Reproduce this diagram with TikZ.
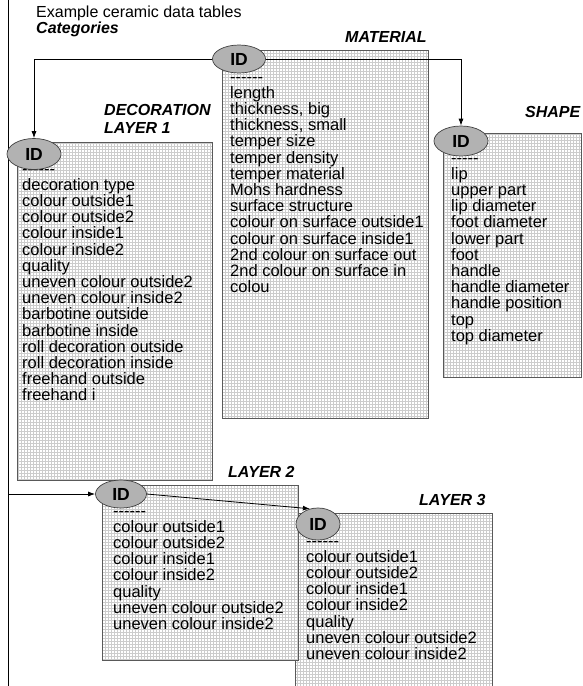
\documentclass[tikz,border=0pt]{standalone}
\usepackage{fontspec}
\setmainfont{Liberation Sans}
\usetikzlibrary{shapes.geometric,arrows.meta,patterns}
\newcommand{\hdash}{-\kern0pt}
\newcommand{\dashrow}{\hdash\hdash\hdash\hdash\hdash\hdash}
\begin{document}
\begin{tikzpicture}[x=1pt,y=-1pt,
  tbox/.style={draw=black!65, line width=0.8pt, preaction={fill=white}, pattern=grid, pattern color=black!20, anchor=north west, inner sep=0pt},
  idell/.style={ellipse, draw=black!75, line width=0.7pt, fill=black!30, inner sep=0pt, font=\fontsize{17.5}{17.5}\selectfont\bfseries},
  list/.style={anchor=base west, align=left, inner sep=0pt, font=\fontsize{16.5}{16.2}\selectfont},
  lbl/.style={anchor=base west, align=left, inner sep=0pt, font=\fontsize{16}{18}\selectfont\bfseries\itshape},
  conn/.style={draw=black, line width=0.8pt},
  arr/.style={conn, -{Latex[length=7pt,width=5pt]}}
]
\useasboundingbox (0,0) rectangle (582,686);
\clip (0,0) rectangle (582,686);

% titles
\node[anchor=base west, inner sep=0pt, font=\fontsize{16}{16}\selectfont] (title) at (36,17) {Example ceramic data tables};
\node[anchor=base west, inner sep=0pt, font=\fontsize{16}{16}\selectfont\bfseries\itshape] (cat) at (36,33) {Categories};

% left frame line
\coordinate (ft) at (8,0);
\coordinate (fb) at (8,686);
\draw[conn] (ft) -- (fb);

% boxes
\node[tbox, minimum width=206pt, minimum height=368pt] (matbox) at (222,50) {};
\node[tbox, minimum width=195pt, minimum height=338pt] (decbox) at (17,142) {};
\node[tbox, minimum width=138pt, minimum height=244pt] (shapebox) at (443,133) {};
\node[tbox, minimum width=197pt, minimum height=190pt] (l3box) at (295,513) {};
\node[tbox, minimum width=196pt, minimum height=175pt] (l2box) at (102,485) {};

% labels (base = last line)
\node[lbl] (matlbl) at (345,42) {MATERIAL};
\node[lbl] (declbl) at (104,133) {DECORATION\\LAYER 1};
\node[lbl] (shapelbl) at (525,117) {SHAPE};
\node[lbl] (l2lbl) at (228,477) {LAYER 2};
\node[lbl] (l3lbl) at (419,505) {LAYER 3};

% lists (anchor base = baseline of last line)
\node[list] (mattext) at (230,292.6) {\dashrow\\length\\thickness, big\\thickness, small\\temper size\\temper density\\temper material\\Mohs hardness\\surface structure\\colour on surface outside1\\colour on surface inside1\\2nd colour on surface out\\2nd colour on surface in\\colou};
\node[list] (dectext) at (22,400.8) {\dashrow\\decoration type\\colour outside1\\colour outside2\\colour inside1\\colour inside2\\quality\\uneven colour outside2\\uneven colour inside2\\barbotine outside\\barbotine inside\\roll decoration outside\\roll decoration inside\\freehand outside\\freehand i};
\node[list] (shapetext) at (451,341.2) {\hdash\hdash\hdash\hdash\hdash\\lip\\upper part\\lip diameter\\foot diameter\\lower part\\foot\\handle\\handle diameter\\handle position\\top\\top diameter};
\node[list] (l2text) at (113,629.4) {\dashrow\\colour outside1\\colour outside2\\colour inside1\\colour inside2\\quality\\uneven colour outside2\\uneven colour inside2};
\node[list] (l3text) at (306,659.4) {\dashrow\\colour outside1\\colour outside2\\colour inside1\\colour inside2\\quality\\uneven colour outside2\\uneven colour inside2};

% ID ellipses
\node[idell, minimum width=53pt, minimum height=28pt] (matid) at (239,59) {ID};
\node[idell, minimum width=54pt, minimum height=31pt] (decid) at (34,154) {ID};
\node[idell, minimum width=54pt, minimum height=30pt] (shapeid) at (461,141) {ID};
\node[idell, minimum width=51pt, minimum height=28pt] (l2id) at (121,494) {ID};
\node[idell, minimum width=44pt, minimum height=32pt] (l3id) at (318,524) {ID};

% connectors
\draw[arr] (matid.west) -| (decid.north);
\draw[arr] (matid.east) -| (shapeid.north);
\coordinate (fj) at (8,494);
\draw[arr] (fj) -- (l2id.west);
\draw[arr] (l2id.east) -- (l3id.118);
\end{tikzpicture}
\end{document}
